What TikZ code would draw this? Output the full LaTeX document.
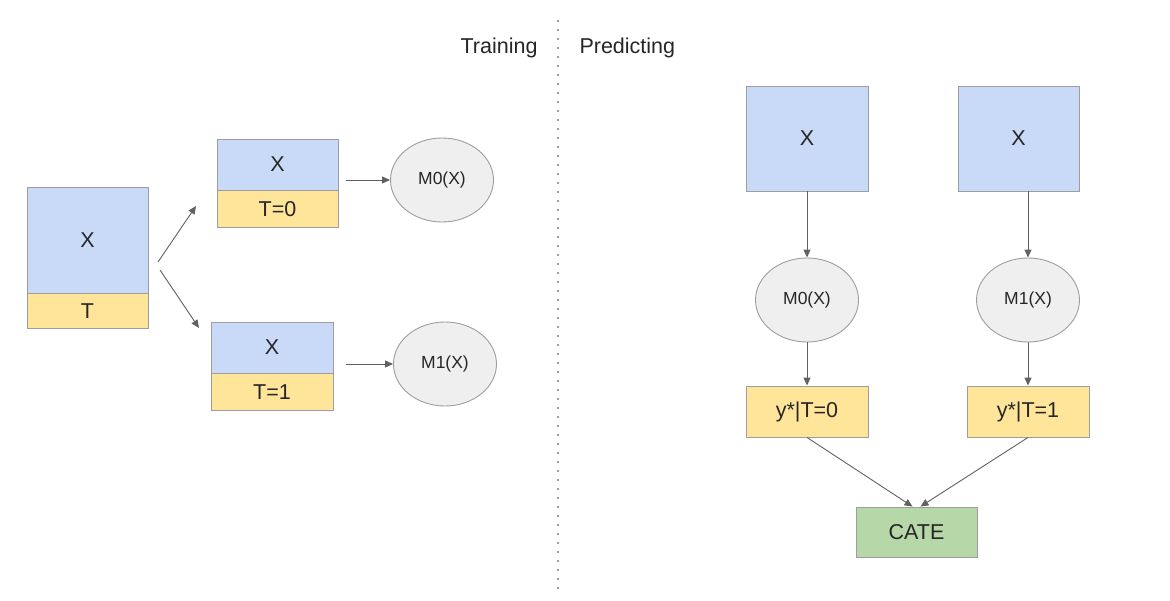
\documentclass[tikz,border=0pt]{standalone}
\usepackage{fontspec}
\setmainfont{Liberation Sans}
\usetikzlibrary{arrows.meta,shapes.geometric}
\definecolor{bluefill}{HTML}{C9DAF8}
\definecolor{yellowfill}{HTML}{FFE599}
\definecolor{greenfill}{HTML}{B6D7A8}
\definecolor{grayfill}{HTML}{EFEFEF}
\definecolor{edge}{HTML}{9E9E9E}
\definecolor{txt}{HTML}{262626}
\definecolor{arr}{HTML}{616161}
\tikzset{
  box/.style={draw=edge, line width=0.9pt, inner sep=0pt, text=txt, font=\fontsize{21.5}{24}\selectfont},
  bluebox/.style={box, fill=bluefill},
  yellowbox/.style={box, fill=yellowfill},
  greenbox/.style={box, fill=greenfill},
  model/.style={draw=edge, line width=0.9pt, fill=grayfill, ellipse, inner sep=0pt, minimum width=103pt, minimum height=84pt, text=txt, font=\fontsize{17.5}{20}\selectfont},
  conn/.style={draw=arr, line width=0.9pt, -{Triangle[length=8pt,width=7pt]}},
  label/.style={text=txt, font=\fontsize{21.5}{24}\selectfont}
}
\begin{document}
\begin{tikzpicture}[x=1pt,y=-1pt]
\useasboundingbox (0,0) rectangle (1170,600);
\fill[white] (0,0) rectangle (1170,600);
% divider
\draw[edge, line width=1.6pt, dash pattern=on 1.6pt off 7.4pt] (558,20) -- (558,592);
\node[label, anchor=east] (train) at (541,48) {Training};
\node[label, anchor=west] (pred) at (576,48) {Predicting};
% left
\node[bluebox, minimum width=121pt, minimum height=106pt] (bx) at (87.5,240) {X};
\node[yellowbox, minimum width=121pt, minimum height=35pt, anchor=north] (bt) at (bx.south) {T};
\node[bluebox, minimum width=121pt, minimum height=51pt] (ax0) at (277.5,164.5) {X};
\node[yellowbox, minimum width=121pt, minimum height=37pt, anchor=north] (at0) at (ax0.south) {T=0};
\node[bluebox, minimum width=122pt, minimum height=51pt] (ax1) at (272,347.5) {X};
\node[yellowbox, minimum width=122pt, minimum height=37pt, anchor=north] (at1) at (ax1.south) {T=1};
\node[model] (lm0) at (442,180) {M0(X)};
\node[model] (lm1) at (445,364) {M1(X)};
\coordinate (s0) at (158,262);
\coordinate (e0) at (196,206);
\coordinate (s1) at (160,270);
\coordinate (e1) at (199,328);
\draw[conn] (s0) -- (e0);
\draw[conn] (s1) -- (e1);
\coordinate (f0) at (346,180);
\coordinate (f1) at (346,364);
\draw[conn] (f0) -- (lm0.west);
\draw[conn] (f1) -- (lm1.west);
% right
\node[bluebox, minimum width=122pt, minimum height=105pt] (rx0) at (807,138.5) {X};
\node[bluebox, minimum width=121pt, minimum height=105pt] (rx1) at (1018.5,138.5) {X};
\node[model] (rm0) at (807,300) {M0(X)};
\node[model] (rm1) at (1028,300) {M1(X)};
\node[yellowbox, minimum width=122pt, minimum height=51pt] (y0) at (807,411.5) {y*|T=0};
\node[yellowbox, minimum width=122pt, minimum height=51pt] (y1) at (1028,411.5) {y*|T=1};
\node[greenbox, minimum width=121pt, minimum height=50pt] (cate) at (916.5,532) {CATE};
\draw[conn] (rx0.south) -- (rm0.north);
\draw[conn] (rx1.south -| rm1.north) -- (rm1.north);
\draw[conn] (rm0.south) -- (y0.north);
\draw[conn] (rm1.south) -- (y1.north);
\draw[conn] (y0.south) -- ([xshift=-4pt]cate.north);
\draw[conn] (y1.south) -- ([xshift=4pt]cate.north);
\end{tikzpicture}
\end{document}
